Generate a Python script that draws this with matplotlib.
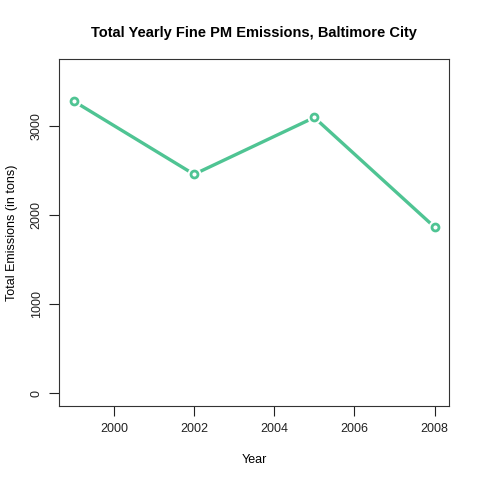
import matplotlib
matplotlib.use("Agg")
import matplotlib.pyplot as plt

years = [1999, 2002, 2005, 2008]
emissions = [3274.2, 2453.9, 3091.4, 1862.3]
yticks = [0, 1000, 2000, 3000]
xticks = [2000, 2002, 2004, 2006, 2008]

color = "#4fc493"
plt.rcParams["font.family"] = ["Liberation Sans", "DejaVu Sans"]

fig = plt.figure(figsize=(4.8, 4.8), dpi=100)
ax = fig.add_axes([0.1236, 0.1542, 0.8118, 0.7223])

# R type="b": line with gaps around open points
ax.plot(years, emissions, color=color, linewidth=2.4, solid_capstyle="butt", zorder=2)
ax.plot(years, emissions, linestyle="none", marker="o", markersize=9,
        markerfacecolor="white", markeredgecolor="white", zorder=3)
ax.plot(years, emissions, linestyle="none", marker="o", markersize=5,
        markerfacecolor="white", markeredgecolor=color, markeredgewidth=2, zorder=4)

ax.set_xlim(1998.64, 2008.36)
ax.set_ylim(-144, 3744)
ax.set_xticks(xticks)
ax.set_yticks(yticks)
ax.set_yticklabels([str(v) for v in yticks], rotation=90, va="center")
ax.tick_params(direction="out", length=7, width=0.8, labelsize=9, pad=5, colors="#222222")

for s in ax.spines.values():
    s.set_linewidth(0.8)
    s.set_color("#333333")

ax.set_title("Total Yearly Fine PM Emissions, Baltimore City",
             fontsize=10.5, fontweight="bold", pad=16)
ax.set_xlabel("Year", fontsize=9, labelpad=14)
ax.set_ylabel("Total Emissions (in tons)", fontsize=9, labelpad=9)

fig.savefig("out.png", dpi=100)
